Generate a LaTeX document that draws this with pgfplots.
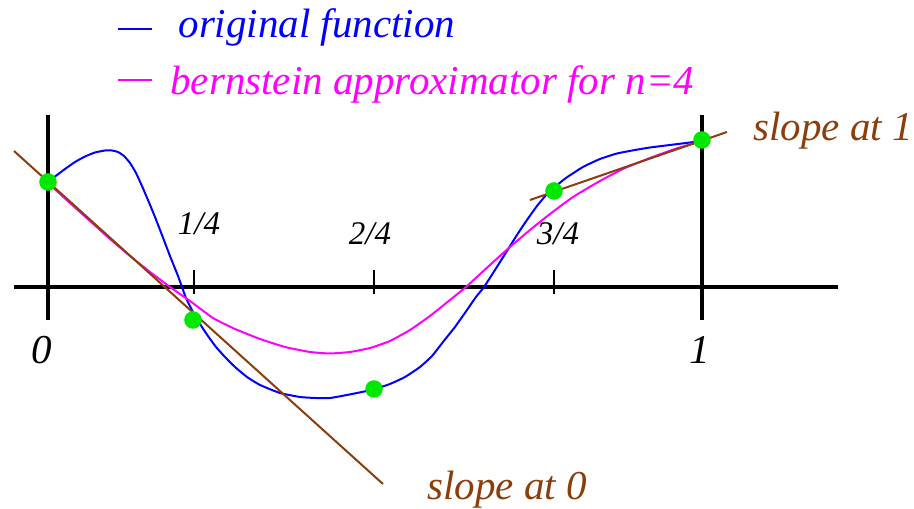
\documentclass[border=0pt]{standalone}
\usepackage{pgfplots}
\pgfplotsset{compat=1.18}
\usepackage{fontspec}
\setmainfont{Liberation Serif}[ItalicFont={Liberation Serif Italic}]
\definecolor{mybrown}{RGB}{139,62,12}
\definecolor{mygreen}{RGB}{0,232,0}
\definecolor{myblue}{RGB}{0,0,255}
\definecolor{mymag}{RGB}{255,0,255}
\begin{document}
\begin{tikzpicture}
\begin{axis}[
  x=261.6pt, y=40pt,
  xmin=-0.0734, xmax=1.3242, ymin=-2.22, ymax=2.87,
  hide axis, clip=false,
]
% invisible frame for the picture size
\addplot[draw=none] coordinates {(-0.0734,-2.22) (1.3242,2.87)};
% axis lines
\addplot[black, line width=1.6pt] coordinates {(-0.052,0) (1.208,0)};
\addplot[black, line width=1.6pt] coordinates {(0,1.72) (0,-0.33)};
\addplot[black, line width=1.6pt] coordinates {(1,1.72) (1,-0.33)};
% ticks
\addplot[black, line width=0.6pt] coordinates {(0.2232,0.17) (0.2232,-0.07)};
\addplot[black, line width=0.6pt] coordinates {(0.4985,0.17) (0.4985,-0.07)};
\addplot[black, line width=0.6pt] coordinates {(0.7737,0.17) (0.7737,-0.07)};
% original function
\addplot[myblue, line width=0.8pt, smooth, tension=0.3] coordinates {
(0,1.06) (0.0107,1.105) (0.0260,1.18) (0.0413,1.25) (0.0566,1.305) (0.0719,1.345)
(0.0872,1.365) (0.0979,1.365) (0.1070,1.35) (0.1162,1.31) (0.1254,1.24) (0.1346,1.14)
(0.1437,1.01) (0.1529,0.87) (0.1636,0.70) (0.1743,0.52) (0.1865,0.31) (0.1988,0.11)
(0.2110,-0.11) (0.2217,-0.25) (0.2324,-0.37) (0.2446,-0.49) (0.2569,-0.60)
(0.2706,-0.70) (0.2859,-0.80) (0.3043,-0.90) (0.3242,-0.98) (0.3547,-1.06)
(0.3853,-1.10) (0.4083,-1.11) (0.4312,-1.11) (0.4572,-1.08) (0.4801,-1.05)
(0.5,-1.02) (0.5229,-0.97) (0.5459,-0.90) (0.5688,-0.80) (0.5872,-0.69)
(0.6040,-0.55) (0.6223,-0.40) (0.6407,-0.23) (0.6544,-0.10) (0.6667,0)
(0.6835,0.17) (0.7018,0.36) (0.7171,0.52) (0.7324,0.67) (0.7477,0.81) (0.7630,0.93)
(0.7768,1.01) (0.7920,1.09) (0.8180,1.20) (0.8440,1.28) (0.8700,1.335) (0.8976,1.37)
(0.9205,1.395) (0.9511,1.42) (1,1.46)};
% bernstein approximator
\addplot[mymag, line width=0.8pt, smooth, tension=0.3] coordinates {
(0,1.04) (0.0336,0.84) (0.0642,0.66) (0.0948,0.48) (0.1254,0.31) (0.1560,0.15)
(0.1865,0) (0.2171,-0.14) (0.2523,-0.31) (0.2859,-0.42) (0.3242,-0.52) (0.3624,-0.60)
(0.4006,-0.65) (0.4312,-0.665) (0.4618,-0.65) (0.4924,-0.61) (0.5229,-0.54)
(0.5535,-0.43) (0.5841,-0.29) (0.6147,-0.13) (0.6391,0) (0.6758,0.22) (0.7064,0.40)
(0.7370,0.57) (0.7676,0.73) (0.8028,0.90) (0.8440,1.06) (0.8823,1.19) (0.9205,1.29)
(0.9587,1.38) (1,1.46)};
% slopes
\addplot[mybrown, line width=0.8pt] coordinates {(-0.0520,1.36) (0.5122,-1.97)};
\addplot[mybrown, line width=0.8pt] coordinates {(0.7370,0.87) (1.0382,1.55)};
% green points
\addplot[only marks, mark=*, mark size=3.3pt, mygreen, mark options={draw=mygreen, fill=mygreen}] coordinates {
(0,1.05) (0.2217,-0.33) (0.4985,-1.02) (0.7737,0.96) (1,1.47)};
% legend dashes
\addplot[myblue, line width=0.8pt] coordinates {(0.1070,2.58) (0.1590,2.58)};
\addplot[mymag, line width=0.8pt] coordinates {(0.1070,2.07) (0.1590,2.07)};
% texts
\node[anchor=base west, inner sep=0pt, text=myblue, font=\rmfamily\fontsize{16.4}{19}\selectfont\itshape] at (axis cs:0.1988,2.50) {original function};
\node[anchor=base west, inner sep=0pt, text=mymag, font=\rmfamily\fontsize{16.4}{19}\selectfont\itshape] at (axis cs:0.1865,1.92) {bernstein approximator for n=4};
\node[anchor=base west, inner sep=0pt, text=mybrown, font=\rmfamily\fontsize{16.4}{19}\selectfont\itshape] at (axis cs:1.078,1.46) {slope at 1};
\node[anchor=base west, inner sep=0pt, text=mybrown, font=\rmfamily\fontsize{16.4}{19}\selectfont\itshape] at (axis cs:0.5795,-2.13) {slope at 0};
\node[anchor=base, inner sep=0pt, font=\rmfamily\fontsize{13.2}{16}\selectfont\itshape] at (axis cs:0.2309,0.52) {1/4};
\node[anchor=base, inner sep=0pt, font=\rmfamily\fontsize{13.2}{16}\selectfont\itshape] at (axis cs:0.4924,0.42) {2/4};
\node[anchor=base, inner sep=0pt, font=\rmfamily\fontsize{13.2}{16}\selectfont\itshape] at (axis cs:0.7798,0.42) {3/4};
\node[anchor=base, inner sep=0pt, font=\rmfamily\fontsize{16.4}{19}\selectfont\itshape] at (axis cs:-0.009,-0.77) {0};
\node[anchor=base, inner sep=0pt, font=\rmfamily\fontsize{16.4}{19}\selectfont\itshape] at (axis cs:0.997,-0.77) {1};
\end{axis}
\end{tikzpicture}
\end{document}
